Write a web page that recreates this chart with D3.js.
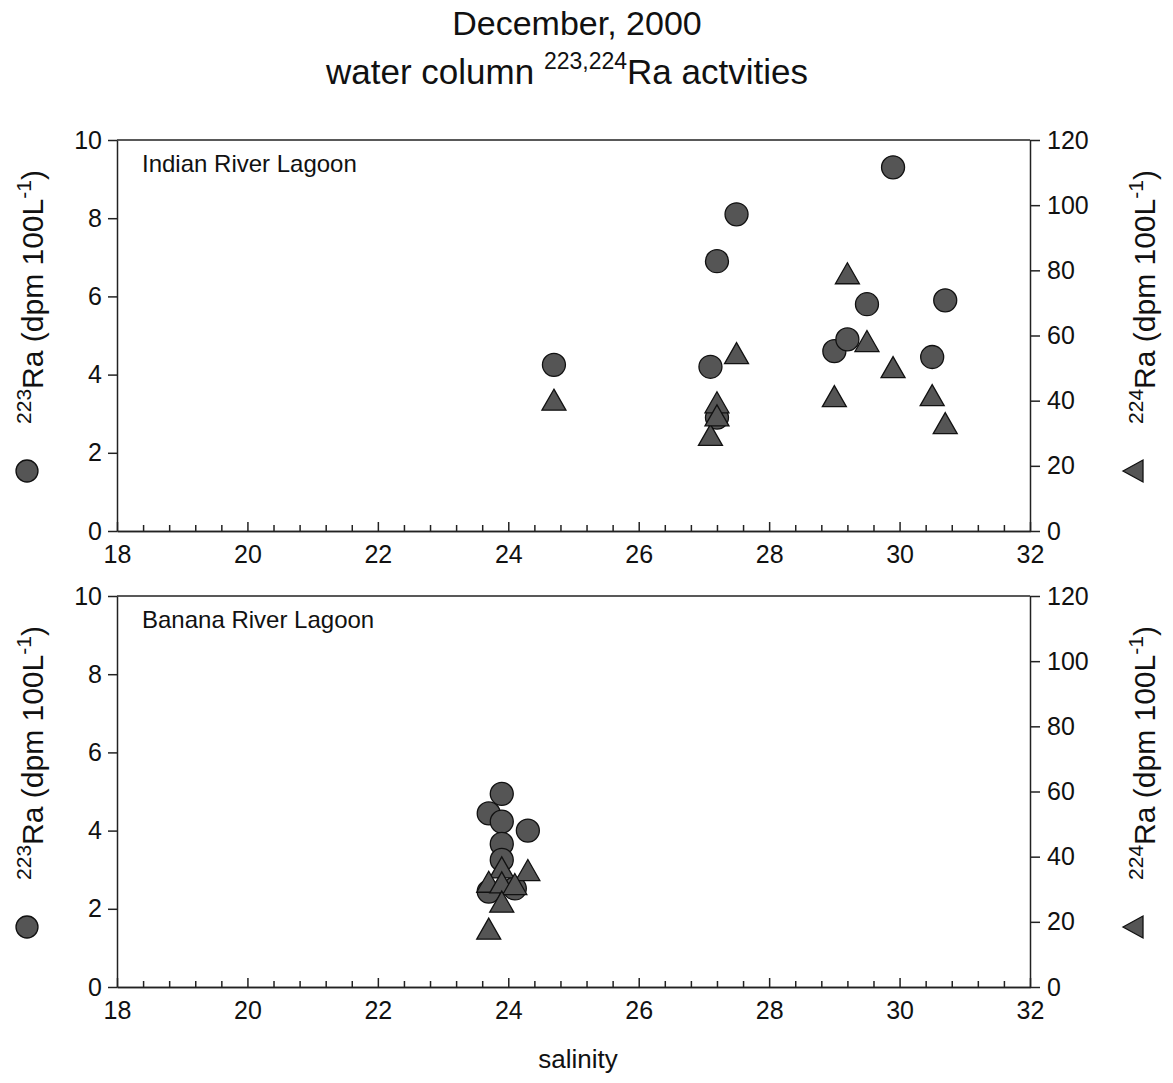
<!DOCTYPE html>
<html>
<head>
<meta charset="utf-8">
<script src="https://cdn.jsdelivr.net/npm/d3@7"></script>
<style>
  body { margin: 0; background: #fff; }
  svg text { font-family: "Liberation Sans", Arial, sans-serif; fill: #111; }
</style>
</head>
<body>
<div id="viz"></div>
<script>
// Indian River Lagoon (top panel)
const irlSal223 = [24.7, 27.1, 27.2, 27.5, 27.2, 29.9, 29.0, 29.2, 29.5, 30.5, 30.7];
const irlRa223 = [4.25, 4.2, 6.9, 8.1, 2.9, 9.3, 4.6, 4.9, 5.8, 4.45, 5.9];
const irlSal224 = [24.7, 27.1, 27.2, 27.2, 27.5, 29.0, 29.2, 29.5, 29.9, 30.5, 30.7];
const irlRa224 = [40.3, 29.5, 39.5, 35.5, 54.6, 41.4, 79.1, 58.3, 50.3, 41.7, 33.1];

// Banana River Lagoon (bottom panel)
const brlSal223 = [23.9, 23.7, 23.9, 24.3, 23.9, 23.9, 23.7, 24.1];
const brlRa223 = [4.94, 4.44, 4.23, 4.0, 3.66, 3.25, 2.44, 2.52];
const brlSal224 = [23.9, 24.3, 23.7, 23.9, 24.1, 23.9, 23.7];
const brlRa224 = [36.7, 35.9, 32.3, 32.1, 31.6, 26.2, 17.9];

const salTicks = [18, 20, 22, 24, 26, 28, 30, 32];
const salMinor = [18.4, 18.8, 19.2, 19.6, 20.4, 20.8, 21.2, 21.6, 22.4, 22.8, 23.2, 23.6,
    24.4, 24.8, 25.2, 25.6, 26.4, 26.8, 27.2, 27.6, 28.4, 28.8, 29.2, 29.6, 30.4, 30.8, 31.2, 31.6];
const ra223Ticks = [0, 2, 4, 6, 8, 10];
const ra224Ticks = [0, 20, 40, 60, 80, 100, 120];

const W = 1173, H = 1083;
const left = 117, right = 1030;
const panelH = 391;
const panels = [
    { top: 140, name: "Indian River Lagoon", s223: irlSal223, r223: irlRa223, s224: irlSal224, r224: irlRa224 },
    { top: 596, name: "Banana River Lagoon", s223: brlSal223, r223: brlRa223, s224: brlSal224, r224: brlRa224 }
];

const ink = "#222";
const fillCol = "#555";
const tickFont = "25px";

const svg = d3.select("#viz").append("svg")
    .attr("width", W)
    .attr("height", H);

// Title
svg.append("text")
    .attr("x", 577).attr("y", 35)
    .attr("text-anchor", "middle")
    .style("font-size", "34px")
    .text("December, 2000");
const t2 = svg.append("text")
    .attr("x", 567).attr("y", 84)
    .attr("text-anchor", "middle")
    .style("font-size", "35px");
t2.append("tspan").text("water column ");
t2.append("tspan").attr("dy", -15).style("font-size", "23px").text("223,224");
t2.append("tspan").attr("dy", 15).text("Ra actvities");

const x = d3.scaleLinear().domain([18, 32]).range([left, right]);

// triangle with its bounding box centred on the point
const triPath = (w, h) => `M0,${-h / 2}L${w / 2},${h / 2}L${-w / 2},${h / 2}Z`;
const triLeft = (w, h) => `M${-w / 2},0L${w / 2},${-h / 2}L${w / 2},${h / 2}Z`;

function yLabel(g, xPos, yPos, iso) {
    const t = g.append("text")
        .attr("transform", `translate(${xPos},${yPos}) rotate(-90)`)
        .attr("text-anchor", "middle")
        .style("font-size", "30px");
    t.append("tspan").style("font-size", "21px").attr("dy", -12).text(iso);
    t.append("tspan").attr("dy", 12).text("Ra (dpm 100L");
    t.append("tspan").attr("dy", -12).style("font-size", "21px").text("-1");
    t.append("tspan").attr("dy", 12).text(")");
}

function styleAxis(a) {
    a.selectAll("path.domain").attr("stroke", ink).attr("stroke-width", 1.5);
    a.selectAll("line").attr("stroke", ink).attr("stroke-width", 1.5);
    a.selectAll("text").style("font-size", tickFont).attr("fill", "#111")
        .style("font-family", "'Liberation Sans', Arial, sans-serif");
}

panels.forEach(p => {
    const yL = d3.scaleLinear().domain([0, 10]).range([p.top + panelH, p.top]);
    const yR = d3.scaleLinear().domain([0, 120]).range([p.top + panelH, p.top]);
    const g = svg.append("g");

    // top frame line
    g.append("line")
        .attr("x1", left).attr("x2", right)
        .attr("y1", p.top).attr("y2", p.top)
        .attr("stroke", ink).attr("stroke-width", 1.5);

    // x axis, ticks inward
    const xMinor = g.append("g").attr("transform", `translate(0,${p.top + panelH})`)
        .call(d3.axisBottom(x).tickValues(salMinor).tickSize(-6).tickSizeOuter(0).tickFormat(""));
    styleAxis(xMinor);
    const xg = g.append("g").attr("transform", `translate(0,${p.top + panelH})`)
        .call(d3.axisBottom(x).tickValues(salTicks).tickSizeInner(-9).tickSizeOuter(0).tickPadding(14));
    styleAxis(xg);

    // left axis
    const lg = g.append("g").attr("transform", `translate(${left},0)`)
        .call(d3.axisLeft(yL).tickValues(ra223Ticks).tickSize(9).tickSizeOuter(0).tickPadding(6));
    styleAxis(lg);
    // right axis
    const rg = g.append("g").attr("transform", `translate(${right},0)`)
        .call(d3.axisRight(yR).tickValues(ra224Ticks).tickSize(10).tickSizeOuter(0).tickPadding(7));
    styleAxis(rg);

    // panel name
    g.append("text")
        .attr("x", 142).attr("y", p.top + 32)
        .style("font-size", "24px")
        .text(p.name);

    // 223Ra circles
    g.selectAll("circle.ra223")
        .data(p.s223.map((s, i) => [s, p.r223[i]]))
        .enter().append("circle")
        .attr("class", "ra223")
        .attr("cx", d => x(d[0]))
        .attr("cy", d => yL(d[1]))
        .attr("r", 11.5)
        .attr("fill", fillCol).attr("stroke", "#111").attr("stroke-width", 1.3);

    // 224Ra triangles
    g.selectAll("path.ra224")
        .data(p.s224.map((s, i) => [s, p.r224[i]]))
        .enter().append("path")
        .attr("class", "ra224")
        .attr("d", triPath(24, 21))
        .attr("transform", d => `translate(${x(d[0])},${yR(d[1])})`)
        .attr("fill", fillCol).attr("stroke", "#111").attr("stroke-width", 1.3);

    // axis titles and legend symbols
    const mid = p.top + 157;
    yLabel(g, 43, mid, "223");
    yLabel(g, 1155, mid, "224");
    g.append("circle")
        .attr("cx", 27).attr("cy", p.top + 331).attr("r", 11)
        .attr("fill", fillCol).attr("stroke", "#111").attr("stroke-width", 1.3);
    g.append("path")
        .attr("d", triLeft(20, 22))
        .attr("transform", `translate(1133,${p.top + 331})`)
        .attr("fill", fillCol).attr("stroke", "#111").attr("stroke-width", 1.3);
});

svg.append("text")
    .attr("x", 578).attr("y", 1068)
    .attr("text-anchor", "middle")
    .style("font-size", "26px")
    .text("salinity");
</script>
</body>
</html>
